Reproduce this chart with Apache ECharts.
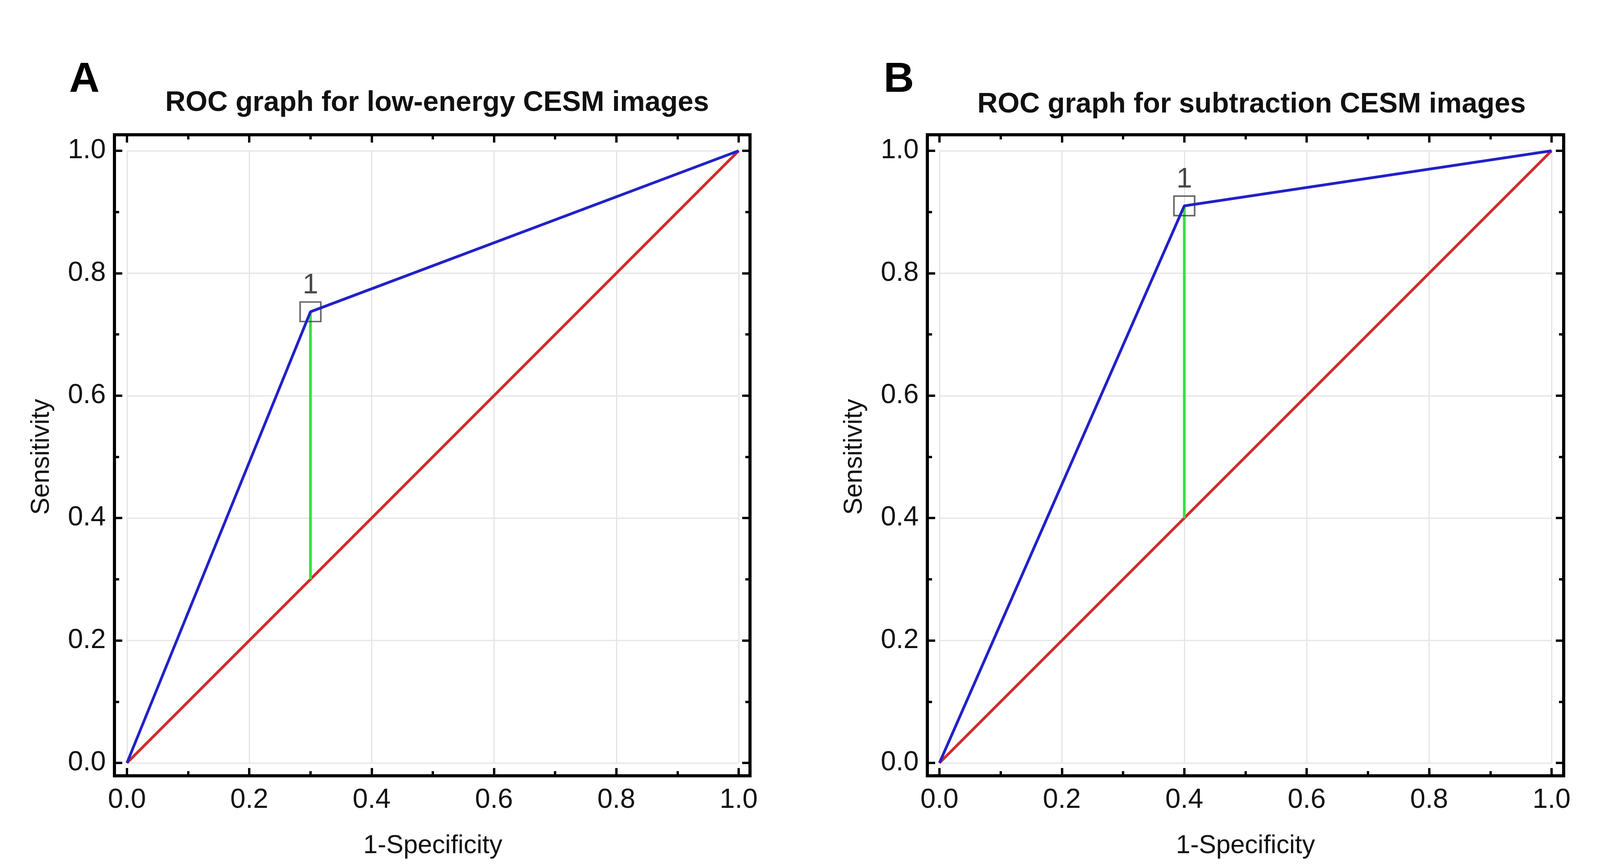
<!DOCTYPE html>
<html>
<head>
<meta charset="utf-8">
<script src="https://cdn.jsdelivr.net/npm/echarts@6/dist/echarts.min.js"></script>
<style>
  html, body { margin: 0; padding: 0; background: #fff; }
  #roc { width: 4103px; height: 2222px; }
</style>
</head>
<body>
<div id="roc"></div>
<script>
// data
var tickValues = [0, 0.2, 0.4, 0.6, 0.8, 1.0];
var tickLabels = ['0.0', '0.2', '0.4', '0.6', '0.8', '1.0'];

// panel A: low-energy
var rocA_x = [0, 0.3, 1];
var rocA_y = [0, 0.737, 1];
var cutA_x = [0.3, 0.3];
var cutA_y = [0.3, 0.737];

// panel B: subtraction
var rocB_x = [0, 0.4, 1];
var rocB_y = [0, 0.91, 1];
var cutB_x = [0.4, 0.4];
var cutB_y = [0.4, 0.91];

// reference (chance) line
var diag_x = [0, 1];
var diag_y = [0, 1];

var panelLetters = ['A', 'B'];
var panelTitles = ['ROC graph for low-energy CESM images', 'ROC graph for subtraction CESM images'];
var pointLabel = '1';

function pairs(xs, ys) {
    return xs.map(function (x, i) { return [x, ys[i]]; });
}

var myChart = echarts.init(document.getElementById('roc'));
var FONT = 'Liberation Sans, Arial, sans-serif';

// plot area of each panel (pixels) and the frame drawn round it
var panels = [
    { left: 325, top: 386, width: 1566, height: 1567, frameL: 293, frameR: 1920 },
    { left: 2405, top: 386, width: 1567, height: 1567, frameL: 2374, frameR: 4003 }
];
var frameTop = 345, frameBottom = 1986;

function fmt(v) {
    var i = tickValues.indexOf(Math.round(v * 10) / 10);
    return i >= 0 ? tickLabels[i] : '';
}

function tickAxis(extra) {
    var base = {
        type: 'value',
        min: 0,
        max: 1,
        interval: 0.2,
        axisLine: { show: false, onZero: false },
        axisTick: { show: true, inside: true, length: 20, lineStyle: { color: '#000', width: 6 } },
        minorTick: { show: true, splitNumber: 2, length: 12, lineStyle: { color: '#000', width: 6 } },
        axisLabel: { show: false },
        splitLine: { show: false }
    };
    return Object.assign(base, extra);
}

var xAxes = [], yAxes = [], grids = [], series = [], titles = [], graphics = [];

var rocs = [[rocA_x, rocA_y, cutA_x, cutA_y], [rocB_x, rocB_y, cutB_x, cutB_y]];

panels.forEach(function (p, i) {
    grids.push({ left: p.left, top: p.top, width: p.width, height: p.height });

    xAxes.push(tickAxis({
        gridIndex: i, position: 'bottom', offset: frameBottom - (p.top + p.height),
        axisLabel: { show: true, fontSize: 70, color: '#111', fontFamily: FONT, margin: 28, formatter: fmt },
        splitLine: { show: true, lineStyle: { color: '#e4e4e4', width: 3 } },
        name: '1-Specificity', nameLocation: 'middle', nameGap: 147,
        nameTextStyle: { fontSize: 66, color: '#111', fontFamily: FONT }
    }));
    xAxes.push(tickAxis({ gridIndex: i, position: 'top', offset: p.top - frameTop }));

    yAxes.push(tickAxis({
        gridIndex: i, position: 'left', offset: p.left - p.frameL,
        axisLabel: { show: true, fontSize: 70, color: '#111', fontFamily: FONT, margin: 22, formatter: fmt },
        splitLine: { show: true, lineStyle: { color: '#e4e4e4', width: 3 } },
        name: 'Sensitivity', nameLocation: 'middle', nameGap: 153,
        nameTextStyle: { fontSize: 66, color: '#111', fontFamily: FONT }
    }));
    yAxes.push(tickAxis({ gridIndex: i, position: 'right', offset: p.frameR - (p.left + p.width) }));

    var r = rocs[i];
    var xi = i * 2, yi = i * 2;
    series.push({
        type: 'line', xAxisIndex: xi, yAxisIndex: yi, data: pairs(diag_x, diag_y),
        showSymbol: false, clip: false, z: 2,
        lineStyle: { color: '#d42a2a', width: 7 }
    });
    series.push({
        type: 'line', xAxisIndex: xi, yAxisIndex: yi, data: pairs(r[2], r[3]),
        showSymbol: false, clip: false, z: 3,
        lineStyle: { color: '#3ddc44', width: 7 }
    });
    series.push({
        type: 'scatter', xAxisIndex: xi, yAxisIndex: yi, data: [[r[0][1], r[1][1]]],
        symbol: 'rect', symbolSize: [53, 50], clip: false, z: 4,
        itemStyle: { color: 'rgba(0,0,0,0)', borderColor: '#444', borderWidth: 4 },
        label: { show: true, position: 'top', distance: 4, formatter: pointLabel, fontSize: 72, color: '#1a1a1a', fontFamily: FONT }
    });
    series.push({
        type: 'line', xAxisIndex: xi, yAxisIndex: yi, data: pairs(r[0], r[1]),
        showSymbol: false, clip: false, z: 5,
        lineStyle: { color: '#2121c9', width: 7 }
    });

    graphics.push({
        type: 'rect', z: 10, silent: true,
        shape: { x: p.frameL, y: frameTop, width: p.frameR - p.frameL, height: frameBottom - frameTop },
        style: { fill: 'none', stroke: '#000', lineWidth: 8 }
    });
});

titles.push({ text: panelLetters[0], left: 177, top: 151, padding: 0,
    textStyle: { fontSize: 108, fontWeight: 'bold', color: '#000', fontFamily: FONT } });
titles.push({ text: panelTitles[0], left: 1119, top: 228, padding: 0, textAlign: 'center',
    textStyle: { fontSize: 72, fontWeight: 'bold', color: '#111', fontFamily: FONT } });
titles.push({ text: panelLetters[1], left: 2262, top: 151, padding: 0,
    textStyle: { fontSize: 108, fontWeight: 'bold', color: '#000', fontFamily: FONT } });
titles.push({ text: panelTitles[1], left: 3204, top: 232, padding: 0, textAlign: 'center',
    textStyle: { fontSize: 72, fontWeight: 'bold', color: '#111', fontFamily: FONT } });

var option = {
    backgroundColor: '#fff',
    animation: false,
    title: titles,
    grid: grids,
    xAxis: xAxes,
    yAxis: yAxes,
    series: series,
    graphic: graphics
};

myChart.setOption(option);
</script>
</body>
</html>
